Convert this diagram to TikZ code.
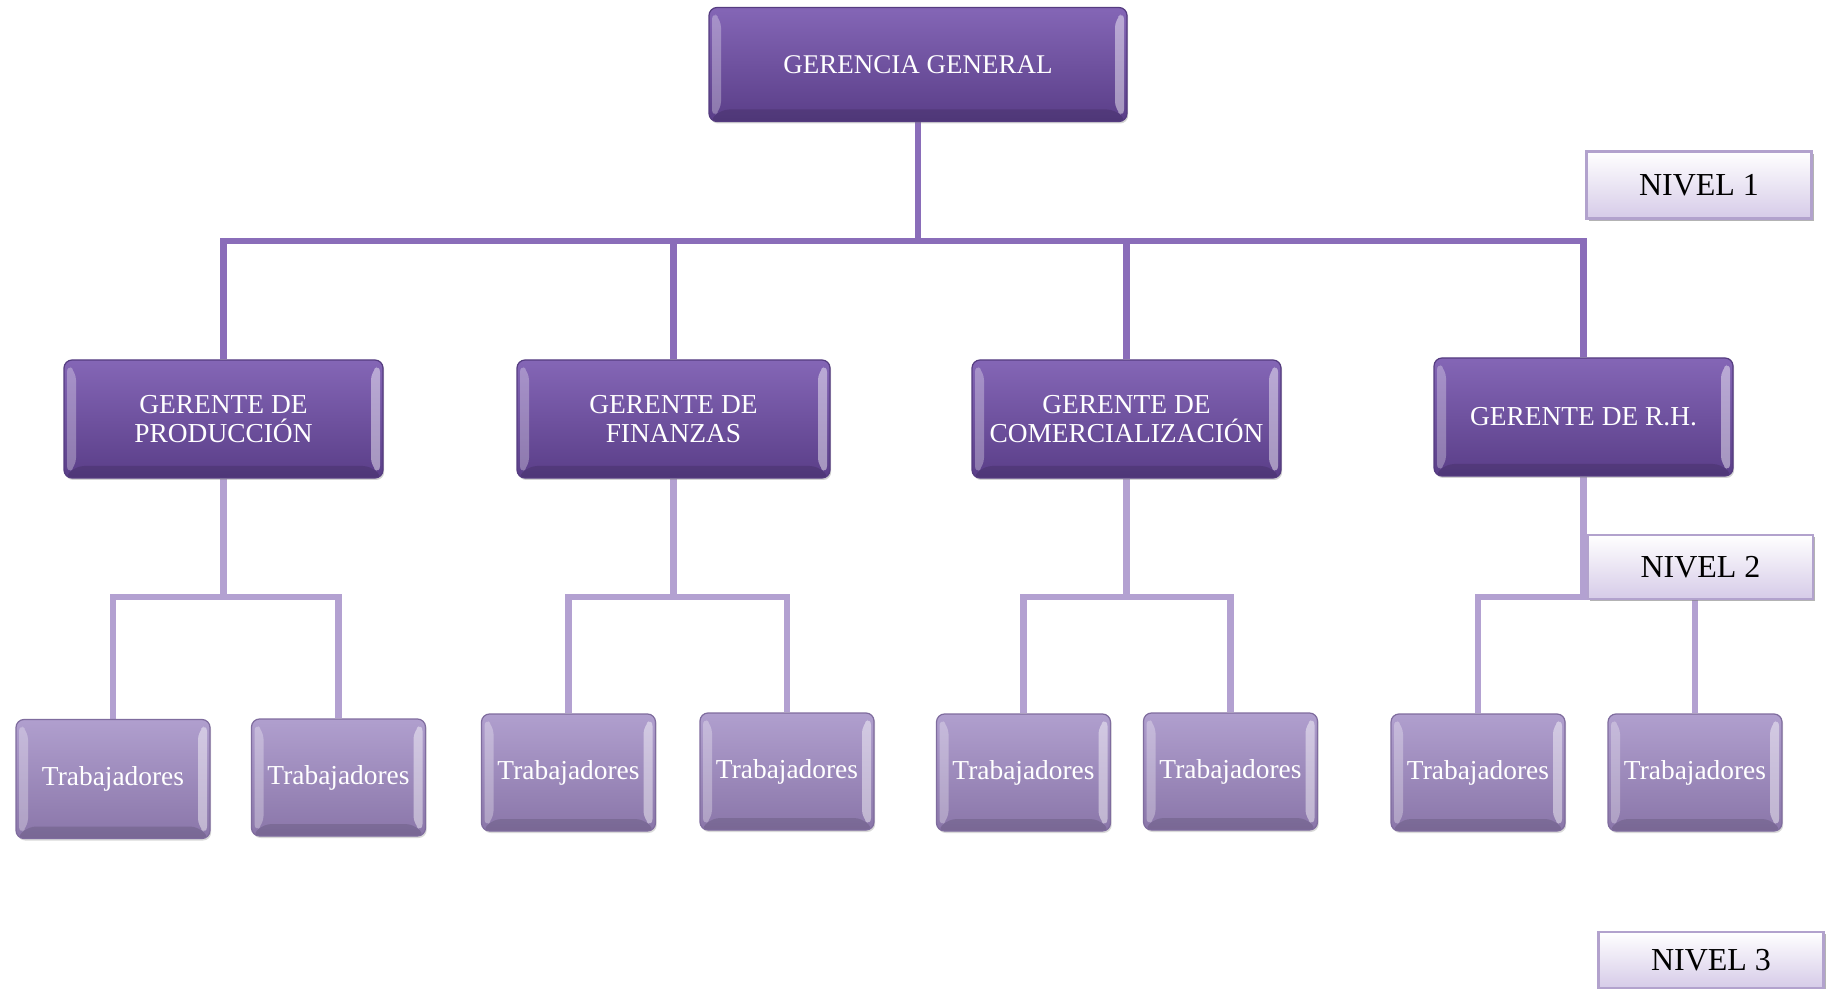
\documentclass[tikz,border=0pt]{standalone}
\usepackage{fontspec}
\setmainfont{Liberation Serif}
\usetikzlibrary{positioning,shadows,backgrounds}

\definecolor{jefetop}{HTML}{8466B6}
\definecolor{jefemid}{HTML}{7052A1}
\definecolor{jefebot}{HTML}{5A3E88}
\definecolor{jefeline}{HTML}{553C80}
\definecolor{trabtop}{HTML}{B09FCE}
\definecolor{trabmid}{HTML}{9E89BD}
\definecolor{trabbot}{HTML}{8A76A9}
\definecolor{trabline}{HTML}{7F6C9E}
\definecolor{upcol}{HTML}{8A6DB9}
\definecolor{lowcol}{HTML}{B3A1D1}
\definecolor{nivelbot}{HTML}{D6CBE8}
\definecolor{nivelline}{HTML}{B2A2CD}

\begin{document}
\begin{tikzpicture}
  [x=0.5pt, y=-0.5pt,
   bevel/.style={path picture={
     \fill[white,opacity=.3]
       ([xshift=1.5pt,yshift=-2pt]path picture bounding box.north west) --
       ([xshift=6pt,yshift=-6pt]path picture bounding box.north west) --
       ([xshift=6pt,yshift=6pt]path picture bounding box.south west) --
       ([xshift=1.5pt,yshift=2pt]path picture bounding box.south west) -- cycle;
     \fill[white,opacity=.45]
       ([xshift=-1.5pt,yshift=-2pt]path picture bounding box.north east) --
       ([xshift=-6pt,yshift=-6pt]path picture bounding box.north east) --
       ([xshift=-6pt,yshift=6pt]path picture bounding box.south east) --
       ([xshift=-1.5pt,yshift=2pt]path picture bounding box.south east) -- cycle;
     \fill[black,opacity=.12]
       ([xshift=6pt,yshift=6pt]path picture bounding box.south west) --
       ([xshift=-6pt,yshift=6pt]path picture bounding box.south east) --
       (path picture bounding box.south east) --
       (path picture bounding box.south west) -- cycle;}},
   jefe/.style={rounded corners=4pt, draw=jefeline, line width=.6pt,
     top color=jefetop, middle color=jefemid, bottom color=jefebot,
     text=white, align=center, inner sep=0pt, minimum height=59pt, bevel,
     font=\fontsize{13.7}{14.5}\selectfont,
     drop shadow={shadow xshift=.6pt, shadow yshift=-1pt, opacity=.35}},
   trab/.style={rounded corners=4pt, draw=trabline, line width=.6pt,
     top color=trabtop, middle color=trabmid, bottom color=trabbot,
     text=white, inner sep=0pt, minimum width=87pt, minimum height=58.5pt,
     bevel, font=\fontsize{13.7}{13.7}\selectfont,
     drop shadow={shadow xshift=.6pt, shadow yshift=-1pt, opacity=.3}},
   nivel/.style={draw=nivelline, line width=1.2pt, top color=white,
     bottom color=nivelbot, inner sep=0pt, minimum width=112.5pt,
     font=\fontsize{16}{16}\selectfont,
     drop shadow={shadow xshift=1pt, shadow yshift=-1.2pt, fill=gray, opacity=.6}},
   up/.style={draw=upcol, line width=3.2pt},
   low/.style={draw=lowcol, line width=3.2pt}]

  \useasboundingbox (0,0) rectangle (1827,989);

  \node[jefe, minimum width=209pt, minimum height=57pt,
        font=\fontsize{13.5}{13.5}\selectfont] (gerencia) at (918,64.5) {GERENCIA GENERAL};

  \node[jefe, minimum width=159.5pt] (produccion)      at (223.5,419)  {GERENTE DE\\PRODUCCIÓN};
  \node[jefe, minimum width=156.5pt] (finanzas)        at (673.5,419)  {GERENTE DE\\FINANZAS};
  \node[jefe, minimum width=154.5pt] (comercializacion) at (1126.5,419) {GERENTE DE\\COMERCIALIZACIÓN};
  \node[jefe, minimum width=149.5pt] (rrhh)            at (1583.5,417) {GERENTE DE R.H.};

  \node[trab, minimum width=97pt, minimum height=59.5pt] (trab1) at (113,779) {Trabajadores};
  \node[trab] (trab2) at (338.5,777.5) {Trabajadores};
  \node[trab] (trab3) at (568.5,772.5) {Trabajadores};
  \node[trab] (trab4) at (787,771.5)   {Trabajadores};
  \node[trab] (trab5) at (1023.5,772.5) {Trabajadores};
  \node[trab] (trab6) at (1230.5,771.5) {Trabajadores};
  \node[trab] (trab7) at (1478,772.5)  {Trabajadores};
  \node[trab] (trab8) at (1695,772.5)  {Trabajadores};

  \node[nivel, minimum height=33.5pt] (nivel1) at (1699,185)  {NIVEL 1};
  \node[nivel, minimum height=32pt]   (nivel2) at (1700.5,567) {NIVEL 2};
  \node[nivel, minimum height=28pt]   (nivel3) at (1711,960)  {NIVEL 3};

  \coordinate (bus)  at (0,241);
  \coordinate (lbus) at (0,597);

  \begin{scope}[on background layer]
    % gerencia to the managers
    \draw[up] (gerencia.south) -- (gerencia.south |- bus);
    \draw[up] (produccion.north) |- (rrhh.north |- bus) -- (rrhh.north);
    \draw[up] (finanzas.north) -- (finanzas.north |- bus);
    \draw[up] (comercializacion.north) -- (comercializacion.north |- bus);
    % managers to the workers
    \draw[low] (produccion.south) -- (produccion.south |- lbus);
    \draw[low] (trab1.north) |- (trab2.north |- lbus) -- (trab2.north);
    \draw[low] (finanzas.south) -- (finanzas.south |- lbus);
    \draw[low] (trab3.north) |- (trab4.north |- lbus) -- (trab4.north);
    \draw[low] (comercializacion.south) -- (comercializacion.south |- lbus);
    \draw[low] (trab5.north) |- (trab6.north |- lbus) -- (trab6.north);
    \draw[low] (rrhh.south) -- (rrhh.south |- lbus);
    \draw[low] (trab7.north) |- (trab8.north |- lbus) -- (trab8.north);
  \end{scope}
\end{tikzpicture}
\end{document}
